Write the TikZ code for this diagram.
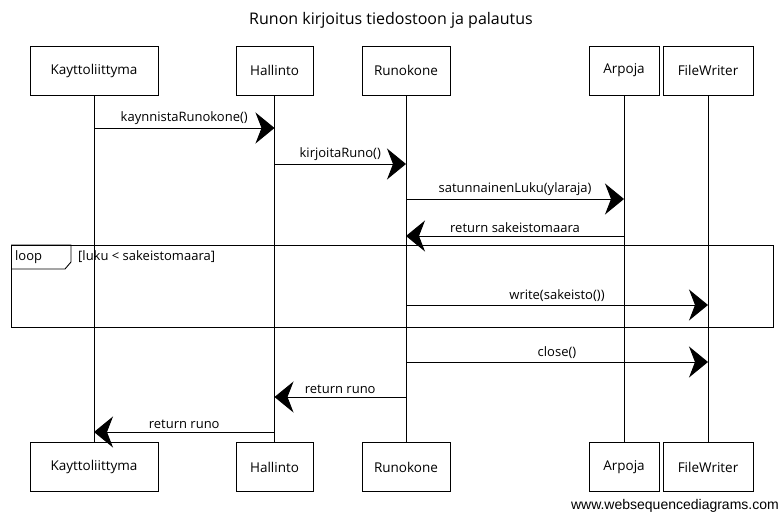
\documentclass[tikz,border=0pt]{standalone}
\usepackage{fontspec}
\setmainfont{Open Sans}
\newfontfamily\footfont{Liberation Sans}
\usetikzlibrary{arrows.meta,positioning}

\begin{document}
\begin{tikzpicture}[x=1pt,y=-1pt,
    actor/.style ={rectangle, draw=black, line width=0.9pt, fill=white,
      text centered, minimum height=49pt, inner sep=2pt,
      font=\fontsize{13.5}{15}\selectfont},
    lifeline/.style ={draw, line width=0.9pt},
    msg/.style ={draw, line width=0.9pt, -{Stealth[length=19pt,width=31pt,inset=6pt]}, shorten >=0pt},
    msglabel/.style ={above=2pt, inner sep=1pt, font=\fontsize{13}{15}\selectfont},
    frame/.style ={draw, line width=0.9pt}]
    \useasboundingbox (0,0) rectangle (781,513);
    % title
    \node [font=\fontsize{16}{18}\selectfont] (title) at (391,20) {Runon kirjoitus tiedostoon ja palautus};
    % participants - top row
    \node [actor, minimum width=128pt] (kayT) at (94,70.5) {Kayttoliittyma};
    \node [actor, minimum width=77pt] (halT) at (274.5,70.5) {Hallinto};
    \node [actor, minimum width=88pt] (runT) at (406,70.5) {Runokone};
    \node [actor, minimum width=70pt] (arpT) at (624,70.5) {Arpoja};
    \node [actor, minimum width=90pt] (filT) at (708,70.5) {FileWriter};
    % participants - bottom row
    \node [actor, minimum width=128pt] (kayB) at (94,467) {Kayttoliittyma};
    \node [actor, minimum width=77pt] (halB) at (274.5,467) {Hallinto};
    \node [actor, minimum width=88pt] (runB) at (406,467) {Runokone};
    \node [actor, minimum width=70pt] (arpB) at (624,467) {Arpoja};
    \node [actor, minimum width=90pt] (filB) at (708,467) {FileWriter};
    % lifelines
    \path [lifeline] (kayT) -- (kayB);
    \path [lifeline] (halT) -- (halB);
    \path [lifeline] (runT) -- (runB);
    \path [lifeline] (arpT) -- (arpB);
    \path [lifeline] (filT) -- (filB);
    % loop frame
    \draw [frame] (11,245) rectangle (773,327);
    \draw [frame] (11,245) -- (71,245) -- (71,262) -- (65,269) -- (11,269);
    \node [anchor=west, inner sep=0pt, font=\fontsize{13}{15}\selectfont] (looptag) at (15,257) {loop};
    \node [anchor=west, inner sep=0pt, font=\fontsize{13}{15}\selectfont] (guard) at (78,257) {[luku < sakeistomaara]};
    % message rows
    \coordinate (r1) at (0,128);
    \coordinate (r2) at (0,164);
    \coordinate (r3) at (0,199);
    \coordinate (r4) at (0,236);
    \coordinate (r5) at (0,305);
    \coordinate (r6) at (0,362);
    \coordinate (r7) at (0,397);
    \coordinate (r8) at (0,432);
    \begin{scope}[every path/.style=msg]
      % calls
      \path (kayT |- r1) -- node [msglabel] {kaynnistaRunokone()} (halT |- r1);
      \path (halT |- r2) -- node [msglabel] {kirjoitaRuno()} (runT |- r2);
      \path (runT |- r3) -- node [msglabel] {satunnainenLuku(ylaraja)} (arpT |- r3);
      \path (arpT |- r4) -- node [msglabel] {return sakeistomaara} (runT |- r4);
      % inside the loop
      \path (runT |- r5) -- node [msglabel] {write(sakeisto())} (filT |- r5);
      % closing and returns
      \path (runT |- r6) -- node [msglabel] {close()} (filT |- r6);
      \path (runT |- r7) -- node [msglabel] {return runo} (halT |- r7);
      \path (halT |- r8) -- node [msglabel] {return runo} (kayT |- r8);
    \end{scope}
    % footer
    \node [anchor=east, inner sep=0pt, font=\footfont\fontsize{14}{16}\selectfont] (footer) at (779,506) {www.websequencediagrams.com};
\end{tikzpicture}
\end{document}
